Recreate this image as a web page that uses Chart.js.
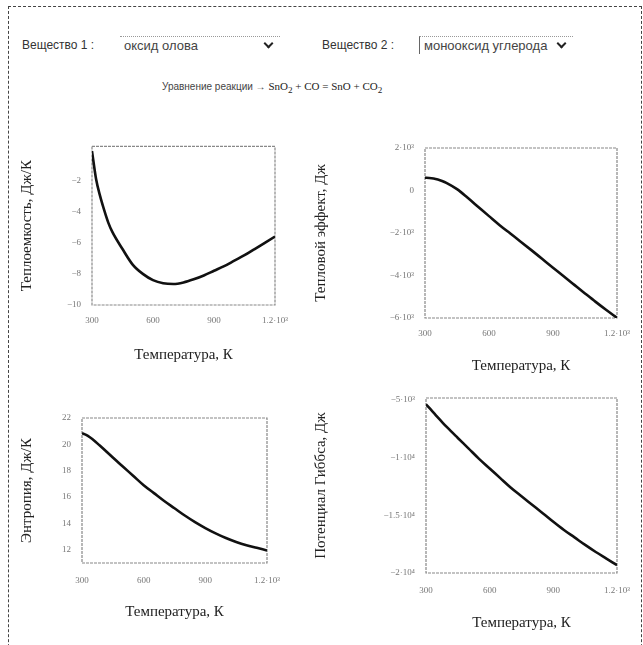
<!DOCTYPE html>
<html lang="ru">
<head>
<meta charset="utf-8">
<title>SnO2 + CO = SnO + CO2</title>
<script src="https://cdn.jsdelivr.net/npm/chart.js@4.4.1/dist/chart.umd.min.js"></script>
<style>
  html, body { margin: 0; padding: 0; background: #fff; }
  body { width: 643px; height: 645px; position: relative; overflow: hidden;
         font-family: "Liberation Sans", Arial, sans-serif; color: #333; }
  #frame { position: absolute; left: 8px; top: 6px; width: 632px; height: 700px;
           border: 1px dashed #444; border-bottom: none; }
  .lbl { position: absolute; top: 38px; font-size: 12px; }
  .sel { position: absolute; top: 36px; height: 18px; border-top: 1px dotted #999;
         font-size: 13px; line-height: 18px; padding-left: 4px; box-sizing: border-box; color: #444; }
  .sel::after { content: ""; position: absolute; right: 8px; top: 3px; width: 5px; height: 5px;
                border-right: 2px solid #222; border-bottom: 2px solid #222; transform: rotate(45deg); }
  #eq { position: absolute; top: 80px; left: 162px; font-size: 10px; color: #444; white-space: nowrap; }
  #eq .f { font-family: "Liberation Serif", serif; font-size: 11px; color: #222; }
  canvas { position: absolute; }
</style>
</head>
<body>
<div id="frame"></div>
<div class="lbl" style="left:22px">Вещество 1 :</div>
<div class="sel" style="left:120px; width:160px">оксид олова</div>
<div class="lbl" style="left:322px">Вещество 2 :</div>
<div class="sel" style="left:419px; width:154px; border-left:1px solid #666">монооксид углерода</div>
<div id="eq">Уравнение реакции → <span class="f">SnO<sub>2</sub> + CO = SnO + CO<sub>2</sub></span></div>

<canvas id="cpChart"></canvas>
<canvas id="dhChart"></canvas>
<canvas id="dsChart"></canvas>
<canvas id="dgChart"></canvas>

<script>
// температуры, К
const temps = [300, 320, 340, 360, 380, 400, 450, 500, 550, 600, 650, 700, 750, 800, 850, 900, 950, 1000, 1050, 1100, 1150, 1200];

// теплоемкость реакции, Дж/К
const heatCapacity = [-0.1, -1.9, -3.0, -3.9, -4.7, -5.3, -6.4, -7.4, -8.0, -8.4, -8.6, -8.65, -8.55, -8.35, -8.1, -7.8, -7.5, -7.15, -6.8, -6.4, -6.0, -5.6];
// тепловой эффект, Дж
const heatEffect = [600, 590, 562, 514, 447, 361, 63, -346, -776, -1206, -1632, -2026, -2420, -2818, -3224, -3630, -4037, -4441, -4844, -5242, -5625, -5990];
// энтропия, Дж/К
const entropy = [20.85, 20.72, 20.52, 20.28, 20.0, 19.72, 19.0, 18.3, 17.6, 16.9, 16.3, 15.7, 15.15, 14.6, 14.1, 13.65, 13.25, 12.9, 12.6, 12.35, 12.15, 11.95];
// потенциал Гиббса, Дж
const gibbs = [-5400, -5800, -6210, -6620, -7020, -7400, -8310, -9210, -10120, -10950, -11790, -12620, -13360, -14090, -14820, -15570, -16280, -16920, -17570, -18180, -18750, -19320];

// подписи осей
const xTicks = [300, 600, 900, 1200];
const xTickLabels = ['300', '600', '900', '1.2·10³'];
const cpTicks = [-2, -4, -6, -8, -10];
const cpTickLabels = ['−2', '−4', '−6', '−8', '−10'];
const dhTicks = [2000, 0, -2000, -4000, -6000];
const dhTickLabels = ['2·10³', '0', '−2·10³', '−4·10³', '−6·10³'];
const dsTicks = [22, 20, 18, 16, 14, 12];
const dsTickLabels = ['22', '20', '18', '16', '14', '12'];
const dgTicks = [-5000, -10000, -15000, -20000];
const dgTickLabels = ['−5·10³', '−1·10⁴', '−1.5·10⁴', '−2·10⁴'];

// рамка вокруг области графика
const framePlugin = {
    id: 'frame',
    beforeDatasetsDraw(chart) {
        const { ctx, chartArea: a } = chart;
        ctx.save();
        ctx.strokeStyle = '#888';
        ctx.lineWidth = 1.2;
        ctx.setLineDash([3, 1]);
        ctx.strokeRect(a.left, a.top, a.right - a.left, a.bottom - a.top);
        ctx.restore();
    }
};

function makeChart(id, box, values, yTitle, y) {
    const canvas = document.getElementById(id);
    canvas.width = box.w;
    canvas.height = box.h;
    canvas.style.left = box.x + 'px';
    canvas.style.top = box.y + 'px';

    return new Chart(canvas, {
        type: 'line',
        data: {
            datasets: [{
                data: temps.map((t, i) => ({ x: t, y: values[i] })),
                borderColor: '#111',
                borderWidth: 2.6,
                pointRadius: 0,
                cubicInterpolationMode: 'monotone',
                fill: false
            }]
        },
        options: {
            responsive: false,
            animation: false,
            layout: { padding: { top: box.pt, right: box.pr, bottom: 0, left: 0 } },
            plugins: { legend: { display: false }, tooltip: { enabled: false } },
            scales: {
                x: {
                    type: 'linear',
                    min: 300, max: 1200,
                    grid: { display: false, drawTicks: false },
                    border: { display: false },
                    afterFit: s => { s.height = box.xh; },
                    afterBuildTicks: s => { s.ticks = xTicks.map(v => ({ value: v })); },
                    ticks: {
                        autoSkip: false, maxRotation: 0, padding: box.xtp,
                        color: '#777', font: { family: 'Liberation Serif', size: 9 },
                        callback: v => xTickLabels[xTicks.indexOf(v)]
                    },
                    title: {
                        display: true, text: 'Температура, К', color: '#222',
                        font: { family: 'Liberation Serif', size: 15 },
                        padding: { top: 0, bottom: box.xtitle }
                    }
                },
                y: {
                    min: y.min, max: y.max,
                    grid: { display: false, drawTicks: false },
                    border: { display: false },
                    afterFit: s => { s.width = box.yw; },
                    afterBuildTicks: s => { s.ticks = y.ticks.map(v => ({ value: v })); },
                    ticks: {
                        autoSkip: false, padding: 11,
                        color: '#777', font: { family: 'Liberation Serif', size: 9 },
                        callback: v => y.labels[y.ticks.indexOf(v)]
                    },
                    title: {
                        display: true, text: yTitle, color: '#222',
                        font: { family: 'Liberation Serif', size: 15 },
                        padding: { top: box.ytitle, bottom: 0 }
                    }
                }
            }
        },
        plugins: [framePlugin]
    });
}

makeChart('cpChart',
    { x: 14, y: 130, w: 296, h: 240, pt: 15, pr: 35, yw: 78, xh: 65, xtp: 10, xtitle: 6, ytitle: 4 },
    heatCapacity, 'Теплоемкость, Дж/К',
    { min: -10, max: 0.2, ticks: cpTicks, labels: cpTickLabels });

makeChart('dhChart',
    { x: 310, y: 130, w: 333, h: 250, pt: 18, pr: 26, yw: 115, xh: 62, xtp: 10, xtitle: 5, ytitle: 2 },
    heatEffect, 'Тепловой эффект, Дж',
    { min: -6000, max: 2000, ticks: dhTicks, labels: dhTickLabels });

makeChart('dsChart',
    { x: 14, y: 385, w: 296, h: 250, pt: 33, pr: 43, yw: 68, xh: 72, xtp: 12, xtitle: 14, ytitle: 4 },
    entropy, 'Энтропия, Дж/К',
    { min: 11, max: 22, ticks: dsTicks, labels: dsTickLabels });

makeChart('dgChart',
    { x: 310, y: 380, w: 333, h: 260, pt: 18, pr: 26, yw: 116, xh: 67, xtp: 12, xtitle: 8, ytitle: 2 },
    gibbs, 'Потенциал Гиббса, Дж',
    { min: -20000, max: -4850, ticks: dgTicks, labels: dgTickLabels });
</script>
</body>
</html>
